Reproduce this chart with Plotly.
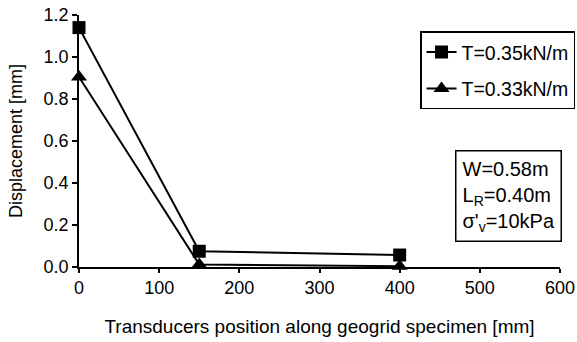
import plotly.graph_objects as go

# Transducer positions along the geogrid specimen [mm]
positions = [0, 150, 400]
# Displacements [mm] for the two pull-out loads
disp_035 = [1.14, 0.075, 0.057]
disp_033 = [0.905, 0.012, 0.004]

x_ticks = [0, 100, 200, 300, 400, 500, 600]
y_ticks = [0.0, 0.2, 0.4, 0.6, 0.8, 1.0, 1.2]

FONT = "Liberation Sans, Arial, sans-serif"

fig = go.Figure()
fig.add_trace(go.Scatter(
    x=positions, y=disp_035, name="T=0.35kN/m", mode="lines+markers",
    legendgroup="a",
    line=dict(color="black", width=2),
    marker=dict(symbol="square", size=13, color="black"),
    cliponaxis=False,
))
fig.add_trace(go.Scatter(
    x=positions, y=disp_033, name="T=0.33kN/m", mode="lines+markers",
    legendgroup="b",
    line=dict(color="black", width=2),
    marker=dict(symbol="triangle-up", size=14, color="black"),
    cliponaxis=False,
))

fig.add_annotation(
    xref="paper", yref="paper", x=1.004, y=0.464, xanchor="right", yanchor="top",
    text="W=0.58m<br>L<sub>R</sub>=0.40m<br>σ'<sub>v</sub>=10kPa",
    showarrow=False, align="left",
    font=dict(family=FONT, size=20, color="black"),
    bordercolor="black", borderwidth=1.5, borderpad=6, bgcolor="white",
)

fig.update_layout(
    width=577, height=342,
    margin=dict(l=79, r=17, t=15, b=75, autoexpand=False),
    paper_bgcolor="white", plot_bgcolor="white",
    font=dict(family=FONT, size=18, color="black"),
    showlegend=True,
    legend=dict(
        x=0.709, y=0.935, xanchor="left", yanchor="top",
        bordercolor="black", borderwidth=1.5, bgcolor="white",
        font=dict(family=FONT, size=19.5, color="black"),
        itemwidth=30, tracegroupgap=8,
    ),
    xaxis=dict(
        range=[0, 600], tickvals=x_ticks, ticktext=[str(v) for v in x_ticks],
        showline=True, linecolor="black", linewidth=1.5, showgrid=False, zeroline=False,
        ticks="outside", ticklen=4, tickcolor="black", tickwidth=1.5,
        tickfont=dict(size=18), automargin=False,
        title=dict(text="Transducers position along geogrid specimen [mm]",
                   font=dict(size=19), standoff=22),
    ),
    yaxis=dict(
        range=[0, 1.2], tickvals=y_ticks, ticktext=[f"{v:.1f}" for v in y_ticks],
        showline=True, linecolor="black", linewidth=1.5, showgrid=False, zeroline=False,
        ticks="outside", ticklen=5, tickcolor="black", tickwidth=1.5,
        tickfont=dict(size=18), automargin=False,
        title=dict(text="Displacement [mm]", font=dict(size=18), standoff=16),
    ),
)

fig.write_html("out.html")
